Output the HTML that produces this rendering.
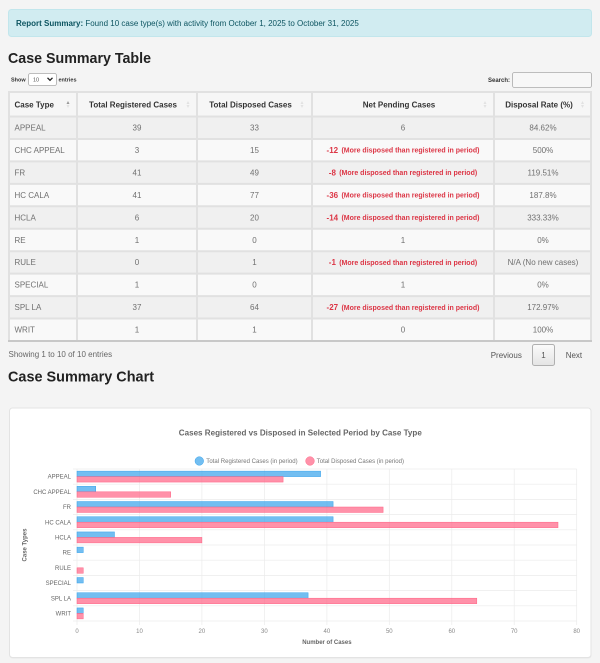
<!DOCTYPE html>
<html>
<head>
<meta charset="utf-8">
<style>
html,body{margin:0;padding:0;background:#f4f4f4;}
svg{display:block;font-family:"Liberation Sans",Arial,sans-serif;}
</style>
</head>
<body>
<svg width="600" height="663" viewBox="0 0 600 663" xmlns="http://www.w3.org/2000/svg">
<defs>
<linearGradient id="pg" x1="0" y1="0" x2="0" y2="1">
<stop offset="0" stop-color="#fbfbfb"/><stop offset="1" stop-color="#e4e4e4"/>
</linearGradient>
</defs>
<rect x="0" y="0" width="600" height="663" fill="#f4f4f4"/>

<!-- Alert -->
<rect x="8.5" y="9.5" width="583" height="27" rx="3" fill="#d1ecf1" stroke="#c2e6ec"/>
<text x="16" y="26" font-size="8" fill="#0c5460"><tspan font-weight="bold">Report Summary:</tspan> Found 10 case type(s) with activity from October 1, 2025 to October 31, 2025</text>

<!-- Heading -->
<text x="8" y="63" font-size="15" font-weight="bold" fill="#222" textLength="143" lengthAdjust="spacingAndGlyphs">Case Summary Table</text>

<!-- Show entries -->
<text x="11" y="81.5" font-size="5.5" font-weight="bold" fill="#333">Show</text>
<rect x="28.5" y="73.5" width="28" height="12" rx="2" fill="#fff" stroke="#aaa" stroke-width="0.8"/>
<text x="33" y="81.5" font-size="5.5" fill="#555">10</text>
<polyline points="47.5,77.8 50,80.3 52.5,77.8" fill="none" stroke="#222" stroke-width="1.3"/>
<text x="58.5" y="81.5" font-size="5.5" font-weight="bold" fill="#333">entries</text>

<!-- Search -->
<text x="488" y="82" font-size="6" font-weight="bold" fill="#333">Search:</text>
<rect x="512.5" y="72.5" width="79" height="15" rx="2" fill="#f7f7f7" stroke="#aaa" stroke-width="0.8"/>

<!-- Table backgrounds -->
<rect x="8" y="91" width="584" height="25.5" fill="#f6f6f6"/>
<rect x="8" y="116.5" width="584" height="22.45" fill="#f0f0f0"/>
<rect x="8" y="138.95" width="584" height="22.45" fill="#f9f9f9"/>
<rect x="8" y="161.4" width="584" height="22.45" fill="#f0f0f0"/>
<rect x="8" y="183.85" width="584" height="22.45" fill="#f9f9f9"/>
<rect x="8" y="206.3" width="584" height="22.45" fill="#f0f0f0"/>
<rect x="8" y="228.75" width="584" height="22.45" fill="#f9f9f9"/>
<rect x="8" y="251.2" width="584" height="22.45" fill="#f0f0f0"/>
<rect x="8" y="273.65" width="584" height="22.45" fill="#f9f9f9"/>
<rect x="8" y="296.1" width="584" height="22.45" fill="#f0f0f0"/>
<rect x="8" y="318.55" width="584" height="22.45" fill="#f9f9f9"/>

<!-- Table grid -->
<g stroke="#e1e1e1" stroke-width="2">
<line x1="8" y1="92" x2="592" y2="92"/>
<line x1="8" y1="116.5" x2="592" y2="116.5"/>
<line x1="8" y1="138.95" x2="592" y2="138.95"/>
<line x1="8" y1="161.4" x2="592" y2="161.4"/>
<line x1="8" y1="183.85" x2="592" y2="183.85"/>
<line x1="8" y1="206.3" x2="592" y2="206.3"/>
<line x1="8" y1="228.75" x2="592" y2="228.75"/>
<line x1="8" y1="251.2" x2="592" y2="251.2"/>
<line x1="8" y1="273.65" x2="592" y2="273.65"/>
<line x1="8" y1="296.1" x2="592" y2="296.1"/>
<line x1="8" y1="318.55" x2="592" y2="318.55"/>
<line x1="9" y1="91" x2="9" y2="341"/>
<line x1="77" y1="91" x2="77" y2="341"/>
<line x1="197" y1="91" x2="197" y2="341"/>
<line x1="312" y1="91" x2="312" y2="341"/>
<line x1="494" y1="91" x2="494" y2="341"/>
<line x1="591" y1="91" x2="591" y2="341"/>
</g>
<line x1="8" y1="341" x2="592" y2="341" stroke="#c8c8c8" stroke-width="2"/>

<!-- Header text -->
<g font-size="8" font-weight="bold" fill="#333">
<text x="14.5" y="107.3">Case Type</text>
<text x="133" y="107.3" text-anchor="middle">Total Registered Cases</text>
<text x="250.5" y="107.3" text-anchor="middle">Total Disposed Cases</text>
<text x="399" y="107.3" text-anchor="middle">Net Pending Cases</text>
<text x="539" y="107.3" text-anchor="middle">Disposal Rate (%)</text>
</g>
<!-- sort icons -->
<g>
<polygon points="66.5,104 68,101 69.5,104" fill="#999"/>
<polygon points="66.5,105 68,108 69.5,105" fill="#e2e2e2"/>
<polygon points="186.5,104 188,101 189.5,104" fill="#e2e2e2"/>
<polygon points="186.5,105 188,108 189.5,105" fill="#e2e2e2"/>
<polygon points="300.5,104 302,101 303.5,104" fill="#e2e2e2"/>
<polygon points="300.5,105 302,108 303.5,105" fill="#e2e2e2"/>
<polygon points="483.5,104 485,101 486.5,104" fill="#e2e2e2"/>
<polygon points="483.5,105 485,108 486.5,105" fill="#e2e2e2"/>
<polygon points="581,104 582.5,101 584,104" fill="#e2e2e2"/>
<polygon points="581,105 582.5,108 584,105" fill="#e2e2e2"/>
</g>

<!-- Body text -->
<g font-size="8" fill="#707070">
<text x="14.5" y="130.5">APPEAL</text>
<text x="14.5" y="152.95">CHC APPEAL</text>
<text x="14.5" y="175.4">FR</text>
<text x="14.5" y="197.85">HC CALA</text>
<text x="14.5" y="220.3">HCLA</text>
<text x="14.5" y="242.75">RE</text>
<text x="14.5" y="265.2">RULE</text>
<text x="14.5" y="287.65">SPECIAL</text>
<text x="14.5" y="310.1">SPL LA</text>
<text x="14.5" y="332.55">WRIT</text>
</g>
<g font-size="8" fill="#707070" text-anchor="middle">
<text x="137" y="130.5">39</text><text x="254.5" y="130.5">33</text><text x="403" y="130.5">6</text><text x="543" y="130.5">84.62%</text>
<text x="137" y="152.95">3</text><text x="254.5" y="152.95">15</text><text x="543" y="152.95">500%</text>
<text x="137" y="175.4">41</text><text x="254.5" y="175.4">49</text><text x="543" y="175.4">119.51%</text>
<text x="137" y="197.85">41</text><text x="254.5" y="197.85">77</text><text x="543" y="197.85">187.8%</text>
<text x="137" y="220.3">6</text><text x="254.5" y="220.3">20</text><text x="543" y="220.3">333.33%</text>
<text x="137" y="242.75">1</text><text x="254.5" y="242.75">0</text><text x="403" y="242.75">1</text><text x="543" y="242.75">0%</text>
<text x="137" y="265.2">0</text><text x="254.5" y="265.2">1</text><text x="543" y="265.2">N/A (No new cases)</text>
<text x="137" y="287.65">1</text><text x="254.5" y="287.65">0</text><text x="403" y="287.65">1</text><text x="543" y="287.65">0%</text>
<text x="137" y="310.1">37</text><text x="254.5" y="310.1">64</text><text x="543" y="310.1">172.97%</text>
<text x="137" y="332.55">1</text><text x="254.5" y="332.55">1</text><text x="403" y="332.55">0</text><text x="543" y="332.55">100%</text>
</g>
<!-- Red net pending -->
<g fill="#dc3545" font-weight="bold">
<text x="326.55" y="152.95" font-size="8">-12</text>
<text x="341.45" y="152.7" font-size="7" textLength="138" lengthAdjust="spacingAndGlyphs">(More disposed than registered in period)</text>
<text x="328.8" y="175.4" font-size="8">-8</text>
<text x="339.2" y="175.15" font-size="7" textLength="138" lengthAdjust="spacingAndGlyphs">(More disposed than registered in period)</text>
<text x="326.55" y="197.85" font-size="8">-36</text>
<text x="341.45" y="197.6" font-size="7" textLength="138" lengthAdjust="spacingAndGlyphs">(More disposed than registered in period)</text>
<text x="326.55" y="220.3" font-size="8">-14</text>
<text x="341.45" y="220.05" font-size="7" textLength="138" lengthAdjust="spacingAndGlyphs">(More disposed than registered in period)</text>
<text x="328.8" y="265.2" font-size="8">-1</text>
<text x="339.2" y="264.95" font-size="7" textLength="138" lengthAdjust="spacingAndGlyphs">(More disposed than registered in period)</text>
<text x="326.55" y="310.1" font-size="8">-27</text>
<text x="341.45" y="309.85" font-size="7" textLength="138" lengthAdjust="spacingAndGlyphs">(More disposed than registered in period)</text>
</g>

<!-- Info & pagination -->
<text x="8.5" y="357" font-size="8" fill="#666">Showing 1 to 10 of 10 entries</text>
<text x="490.7" y="358" font-size="8" fill="#555">Previous</text>
<rect x="532.5" y="344.5" width="22" height="21" rx="2" fill="url(#pg)" stroke="#b0b0b0"/>
<text x="543.5" y="358" font-size="8" fill="#555" text-anchor="middle">1</text>
<text x="565.7" y="358" font-size="8" fill="#555">Next</text>

<!-- Chart heading -->
<text x="8" y="381.5" font-size="15" font-weight="bold" fill="#222" textLength="146" lengthAdjust="spacingAndGlyphs">Case Summary Chart</text>

<!-- Card -->
<rect x="9.5" y="409" width="582" height="249.5" rx="3" fill="#e9e9e9"/>
<rect x="9.5" y="408" width="581.5" height="249.5" rx="3" fill="#fff" stroke="#e3e3e3"/>

<!-- Chart title -->
<text x="300.3" y="435.6" font-size="8" font-weight="bold" fill="#666" text-anchor="middle" textLength="243" lengthAdjust="spacingAndGlyphs">Cases Registered vs Disposed in Selected Period by Case Type</text>

<!-- Legend -->
<circle cx="199.3" cy="461" r="4.3" fill="rgba(54,162,235,0.7)" stroke="rgb(54,162,235)" stroke-width="0.5"/>
<text x="206.3" y="463.1" font-size="6" fill="#777" textLength="91.3" lengthAdjust="spacingAndGlyphs">Total Registered Cases (in period)</text>
<circle cx="310" cy="461" r="4.3" fill="rgba(255,99,132,0.7)" stroke="rgb(255,99,132)" stroke-width="0.5"/>
<text x="316.7" y="463.1" font-size="6" fill="#777" textLength="87.3" lengthAdjust="spacingAndGlyphs">Total Disposed Cases (in period)</text>

<!-- Grid -->
<g stroke="#ebebeb" stroke-width="0.7">
<line x1="77" y1="469" x2="77" y2="625"/>
<line x1="139.5" y1="469" x2="139.5" y2="625"/>
<line x1="201.9" y1="469" x2="201.9" y2="625"/>
<line x1="264.4" y1="469" x2="264.4" y2="625"/>
<line x1="326.9" y1="469" x2="326.9" y2="625"/>
<line x1="389.3" y1="469" x2="389.3" y2="625"/>
<line x1="451.8" y1="469" x2="451.8" y2="625"/>
<line x1="514.2" y1="469" x2="514.2" y2="625"/>
<line x1="576.7" y1="469" x2="576.7" y2="625"/>
<line x1="73" y1="469" x2="576.7" y2="469"/>
<line x1="73" y1="484.2" x2="576.7" y2="484.2"/>
<line x1="73" y1="499.4" x2="576.7" y2="499.4"/>
<line x1="73" y1="514.6" x2="576.7" y2="514.6"/>
<line x1="73" y1="529.8" x2="576.7" y2="529.8"/>
<line x1="73" y1="545" x2="576.7" y2="545"/>
<line x1="73" y1="560.2" x2="576.7" y2="560.2"/>
<line x1="73" y1="575.4" x2="576.7" y2="575.4"/>
<line x1="73" y1="590.6" x2="576.7" y2="590.6"/>
<line x1="73" y1="605.8" x2="576.7" y2="605.8"/>
<line x1="73" y1="621" x2="576.7" y2="621"/>
</g>

<!-- Bars -->
<g fill="rgba(54,162,235,0.7)" stroke="rgb(54,162,235)" stroke-width="0.5">
<rect x="77" y="471.13" width="243.6" height="5.47"/>
<rect x="77" y="486.33" width="18.74" height="5.47"/>
<rect x="77" y="501.53" width="256.1" height="5.47"/>
<rect x="77" y="516.73" width="256.1" height="5.47"/>
<rect x="77" y="531.93" width="37.48" height="5.47"/>
<rect x="77" y="547.13" width="6.25" height="5.47"/>
<rect x="77" y="577.53" width="6.25" height="5.47"/>
<rect x="77" y="592.73" width="231.1" height="5.47"/>
<rect x="77" y="607.93" width="6.25" height="5.47"/>
</g>
<g fill="rgba(255,99,132,0.7)" stroke="rgb(255,99,132)" stroke-width="0.5">
<rect x="77" y="476.6" width="206.1" height="5.47"/>
<rect x="77" y="491.8" width="93.69" height="5.47"/>
<rect x="77" y="507.0" width="306.1" height="5.47"/>
<rect x="77" y="522.2" width="481.0" height="5.47"/>
<rect x="77" y="537.4" width="124.9" height="5.47"/>
<rect x="77" y="567.8" width="6.25" height="5.47"/>
<rect x="77" y="598.2" width="399.8" height="5.47"/>
<rect x="77" y="613.4" width="6.25" height="5.47"/>
</g>

<!-- Y labels -->
<g font-size="6" fill="#666" text-anchor="end">
<text x="71" y="478.7">APPEAL</text>
<text x="71" y="493.9">CHC APPEAL</text>
<text x="71" y="509.1">FR</text>
<text x="71" y="524.3">HC CALA</text>
<text x="71" y="539.5">HCLA</text>
<text x="71" y="554.7">RE</text>
<text x="71" y="569.9">RULE</text>
<text x="71" y="585.1">SPECIAL</text>
<text x="71" y="600.3">SPL LA</text>
<text x="71" y="615.5">WRIT</text>
</g>
<text transform="translate(26.4,545) rotate(-90)" x="0" y="0" font-size="6" font-weight="bold" fill="#666" text-anchor="middle">Case Types</text>

<!-- X labels -->
<g font-size="6" fill="#888" text-anchor="middle">
<text x="77" y="632.8">0</text>
<text x="139.5" y="632.8">10</text>
<text x="201.9" y="632.8">20</text>
<text x="264.4" y="632.8">30</text>
<text x="326.9" y="632.8">40</text>
<text x="389.3" y="632.8">50</text>
<text x="451.8" y="632.8">60</text>
<text x="514.2" y="632.8">70</text>
<text x="576.7" y="632.8">80</text>
</g>
<text x="326.9" y="643.8" font-size="6" font-weight="bold" fill="#666" text-anchor="middle">Number of Cases</text>
</svg>
</body>
</html>
